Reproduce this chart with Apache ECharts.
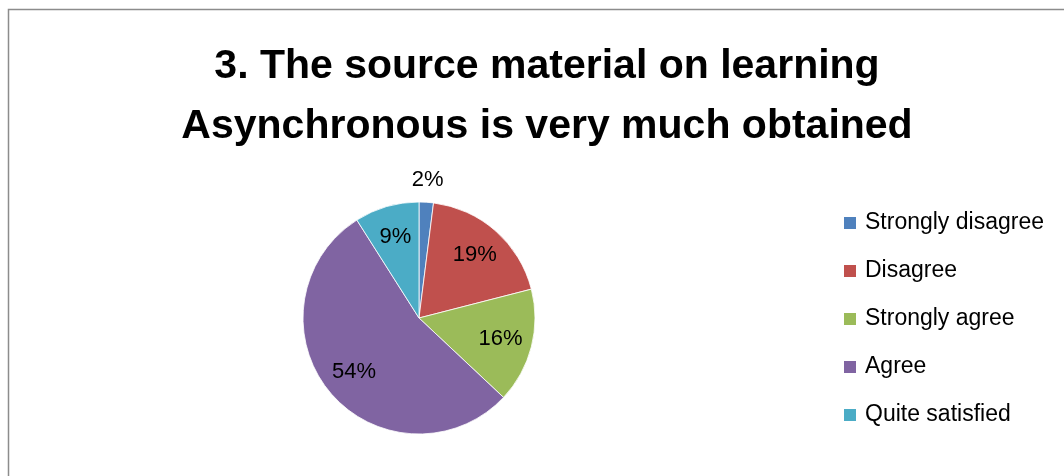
<!DOCTYPE html>
<html>
<head>
<meta charset="utf-8">
<script src="https://cdn.jsdelivr.net/npm/echarts@6/dist/echarts.min.js"></script>
<style>
  html, body { margin: 0; padding: 0; background: #fff; }
  #chart { width: 1064px; height: 476px; }
</style>
</head>
<body>
<div id="chart"></div>
<script>
var titleLines = ['3. The source material on learning', 'Asynchronous is very much obtained'];
var categories = ['Strongly disagree', 'Disagree', 'Strongly agree', 'Agree', 'Quite satisfied'];
var values = [2, 19, 16, 54, 9];
var colors = ['#4F81BD', '#C0504D', '#9BBB59', '#8064A2', '#4BACC6'];

var font = '"Liberation Sans", Arial, sans-serif';
var R = 116; // pie radius, px

function pieData(showFn) {
    return categories.map(function (name, i) {
        var item = { name: name, value: values[i], itemStyle: { color: colors[i] } };
        if (showFn) {
            item.itemStyle = { color: 'rgba(0,0,0,0)' };
            item.label = { show: showFn(i) };
        }
        return item;
    });
}

// label-only ring: text sits at the midpoint of the ring
function labelSeries(r0, r1, showFn) {
    return {
        type: 'pie',
        center: [419, 318],
        radius: [r0, r1],
        startAngle: 90,
        silent: true,
        legendHoverLink: false,
        emphasis: { disabled: true },
        label: {
            show: true,
            position: 'inside',
            formatter: '{c}%',
            color: '#000',
            fontFamily: font,
            fontSize: 22
        },
        labelLine: { show: false },
        data: pieData(showFn)
    };
}

var chart = echarts.init(document.getElementById('chart'));
chart.setOption({
    animation: false,
    title: {
        text: titleLines.join('\n'),
        left: 542,
        textAlign: 'center',
        top: 32,
        textStyle: {
            fontFamily: font,
            fontWeight: 'bold',
            fontSize: 41,
            lineHeight: 60,
            color: '#000'
        }
    },
    legend: {
        orient: 'vertical',
        left: 842,
        top: 211,
        padding: 0,
        itemWidth: 14,
        itemHeight: 14,
        itemGap: 24,
        icon: 'rect',
        data: categories,
        textStyle: { fontFamily: font, fontSize: 23, lineHeight: 24, color: '#000', padding: [0, 0, 0, 3] }
    },
    graphic: [{
        type: 'rect',
        shape: { x: 8.5, y: 9.5, width: 1100, height: 500 },
        style: { fill: 'none', stroke: '#8c8c8c', lineWidth: 1.5 },
        silent: true
    }],
    series: [
        {
            type: 'pie',
            center: [419, 318],
            radius: [0, R],
            startAngle: 90,
            itemStyle: { borderColor: '#fff', borderWidth: 0.8 },
            label: { show: false },
            labelLine: { show: false },
            emphasis: { disabled: true },
            data: pieData()
        },
        labelSeries(R * 0.4, R, function (i) { return i !== 0; }),
        labelSeries(R, R * 1.34, function (i) { return i === 0; })
    ]
});
</script>
</body>
</html>
